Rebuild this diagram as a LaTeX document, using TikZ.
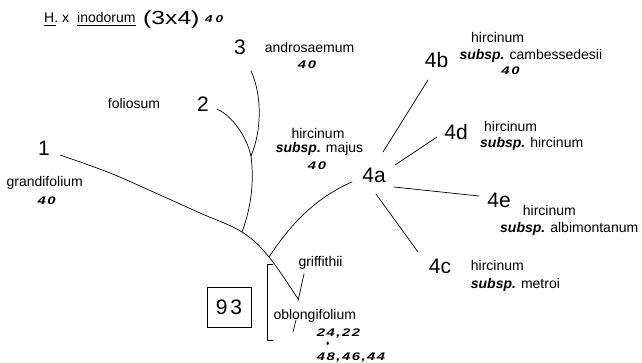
\documentclass[tikz,border=0pt]{standalone}
\usepackage{fontspec}
\usepackage{graphicx}
\setmainfont{Liberation Sans}
\newcommand{\ssp}{\textbf{\textit{subsp.}}\hspace{5pt}}
\newcommand{\wn}[1]{\scalebox{1.35}[1]{#1}}
\newcommand{\nk}{\kern1.5pt}
\begin{document}
\begin{tikzpicture}[x=1pt,y=-1pt,
  lbl/.style={font=\fontsize{14}{14}\selectfont, inner sep=0pt, anchor=base},
  lbll/.style={lbl, anchor=base west},
  big/.style={font=\fontsize{21}{21}\selectfont, inner sep=0pt, anchor=base},
  num/.style={font=\fontsize{11}{11}\selectfont\bfseries\itshape, inner sep=0pt, anchor=base},
  numl/.style={num, anchor=base west},
  ln/.style={line width=0.7pt, line cap=round}]
\useasboundingbox (0,0) rectangle (642,363);
% title
\node[lbll] (th) at (44,23) {H.};
\node[lbll] (tx) at (62,23) {x};
\node[lbll] (ti) at (77,23) {inodorum};
\node[font=\fontsize{19}{19}\selectfont, inner sep=0pt, anchor=base west] (t34) at (143,25) {\scalebox{1.3}[1]{(3x4)}};
\node[numl, font=\fontsize{10}{10}\selectfont\bfseries\itshape] (t40) at (205,22.7) {\wn{4}\kern3pt\wn{0}};
\draw[line width=0.6pt] (th.base west) ++(0,2.5) -- ++(12,0);
\draw[line width=0.6pt] (ti.base west) ++(0,2.5) -- ++(59,0);
% big labels
\node[big] (n1) at (44,156) {1};
\node[big] (n2) at (203,111.7) {2};
\node[big] (n3) at (240,55) {3};
\node[big] (n4a) at (374,182.7) {4a};
\node[big] (n4b) at (436.5,68) {4b};
\node[big] (n4d) at (456,140) {4d};
\node[big] (n4e) at (499,208) {4e};
\node[big] (n4c) at (440,273) {4c};
% species labels
\node[lbl] (andr) at (309.5,53) {androsaemum};
\node[num] (andr40) at (307,68.3) {\wn{4}\nk\wn{0}};
\node[lbl] (fol) at (134,109) {foliosum};
\node[lbl] (gra) at (44.7,186.7) {grandifolium};
\node[num] (gra40) at (46.7,205) {\wn{4}\nk\wn{0}};
\node[lbl] (maj1) at (318,138.3) {hircinum};
\node[lbl] (maj2) at (319.5,153) {\ssp majus};
\node[num] (maj40) at (317,170) {\wn{4}\nk\wn{0}};
\node[lbll] (cam1) at (471,42.3) {hircinum};
\node[lbll] (cam2) at (459.3,60) {\ssp cambessedesii};
\node[num] (cam40) at (510.5,75) {\wn{4}\nk\wn{0}};
\node[lbll] (hir1) at (484,131.7) {hircinum};
\node[lbll] (hir2) at (480,148) {\ssp hircinum};
\node[lbll] (alb1) at (522.7,216) {hircinum};
\node[lbll] (alb2) at (500,233) {\ssp albimontanum};
\node[lbll] (met1) at (470.7,270.7) {hircinum};
\node[lbll] (met2) at (470.7,288) {\ssp metroi};
\node[lbll] (gri) at (298.3,266) {griffithii};
\node[lbll] (obl) at (273.3,319) {oblongifolium};
\node[numl] (n2422) at (316.7,336) {\wn{2}\nk\wn{4}\nk\wn{,}\nk\wn{2}\nk\wn{2}};
\coordinate (dm) at (327.7,343.3);
\fill (dm) ++(0,-2) -- ++(1.3,2) -- ++(-1.3,2) -- ++(-1.3,-2) -- cycle;
\node[numl] (n4844) at (316.7,360) {\wn{4}\nk\wn{8}\nk\wn{,}\nk\wn{4}\nk\wn{6}\nk\wn{,}\nk\wn{4}\nk\wn{4}};
% box
\node[draw, line width=0.7pt, minimum width=44pt, minimum height=40pt, inner sep=0pt,
      font=\fontsize{21}{21}\selectfont] (box) at (229,307) {9\kern3pt3};
% bracket
\coordinate (bt) at (273,264);
\coordinate (bb) at (273,340);
\draw[ln] (bt) -- ++(-6,0) |- (bb);
% tree
\coordinate (p1) at (60,155);
\coordinate (pend) at (298,299);
\coordinate (j23) at (251,156);
\coordinate (jm) at (242,232);
\coordinate (j4) at (269,257);
\coordinate (p3) at (251,71);
\coordinate (p2) at (217,109);
\coordinate (p4a) at (352,182);
\draw[ln] plot[smooth, tension=0.6] coordinates {(p1) (110,173) (160,195) (200,213) (jm) (j4) (pend)};
\draw[ln] (p3) .. controls (262,95) and (262,130) .. (j23);
\draw[ln] (p2) .. controls (232,116) and (246,135) .. (j23);
\draw[ln] (j23) .. controls (254,180) and (252,205) .. (jm);
\draw[ln] (j4) .. controls (290,225) and (315,198) .. (p4a);
\coordinate (g1) at (304,274);
\coordinate (g2) at (298,301);
\coordinate (g3) at (296,320);
\coordinate (g4) at (293,332);
\draw[ln] (g1) -- (g2);
\draw[ln] (g3) -- (g4);
% spokes from 4a
\coordinate (s4b) at (383,152); \coordinate (e4b) at (428,80);
\coordinate (s4d) at (395,165); \coordinate (e4d) at (437,137);
\coordinate (s4e) at (394,187); \coordinate (e4e) at (479,196);
\coordinate (s4c) at (376,194); \coordinate (e4c) at (418,252);
\draw[ln] (s4b) -- (e4b);
\draw[ln] (s4d) -- (e4d);
\draw[ln] (s4e) -- (e4e);
\draw[ln] (s4c) -- (e4c);
\end{tikzpicture}
\end{document}
